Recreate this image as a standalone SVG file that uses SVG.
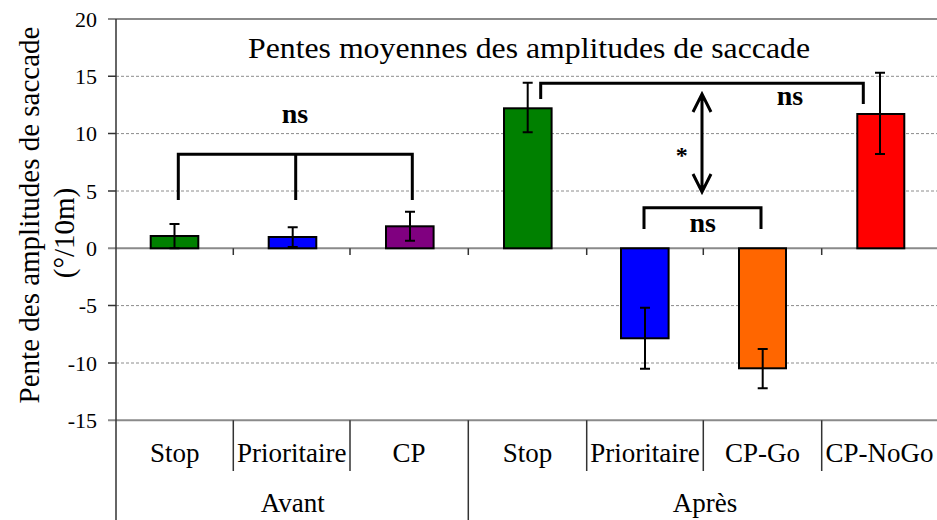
<svg xmlns="http://www.w3.org/2000/svg" width="937" height="520" viewBox="0 0 937 520">
<style>
text{font-family:'Liberation Serif','Times New Roman',serif;fill:#000}
.tick{font-size:22px;text-anchor:end}
.cat{font-size:27px;text-anchor:middle}
.ns{font-size:28px;font-weight:bold;text-anchor:middle}
.grid{stroke:#8c8c8c;stroke-width:1;stroke-dasharray:3 2;fill:none}
.ax{stroke:#8a8a8a;stroke-width:2;fill:none}
.dk{stroke:#333;stroke-width:1.5;fill:none}
.bar{stroke:#000;stroke-width:2}
.err{stroke:#000;stroke-width:2;fill:none}
.br{stroke:#000;stroke-width:3;fill:none}
</style>
<rect width="937" height="520" fill="#fff"/>
<g id="grid">
<path class="grid" d="M116,76.3H937M116,133.6H937M116,191H937M116,305.6H937M116,363H937"/>
<path class="ax" d="M108,19H937M108,420.3H937M108,248.3H937"/>
<path class="dk" d="M108,76.3H116M108,133.6H116M108,191H116M108,305.6H116M108,363H116"/>
<path class="dk" d="M116,19V520"/>
<path class="dk" d="M233.3,248.3V255M350,248.3V255M468.3,248.3V255M586.7,248.3V255M703.3,248.3V255M821.7,248.3V255"/>
<path class="dk" d="M233.3,420.3V471M350,420.3V471M586.7,420.3V471M703.3,420.3V471M821.7,420.3V471M468.3,420.3V520"/>
</g>
<g id="yticks">
<text class="tick" x="97" y="26.5">20</text>
<text class="tick" x="97" y="83.8">15</text>
<text class="tick" x="97" y="141.1">10</text>
<text class="tick" x="97" y="198.5">5</text>
<text class="tick" x="97" y="255.8">0</text>
<text class="tick" x="97" y="313.1">-5</text>
<text class="tick" x="97" y="370.5">-10</text>
<text class="tick" x="97" y="427.8">-15</text>
</g>
<g id="ylabel">
<text font-size="29" text-anchor="middle" transform="translate(39,215) rotate(-90)">Pente des amplitudes de saccade</text>
<text font-size="29" text-anchor="middle" transform="translate(74,233) rotate(-90)">(°/10m)</text>
</g>
<g id="title">
<text font-size="29" text-anchor="middle" x="529" y="58" textLength="562" lengthAdjust="spacingAndGlyphs">Pentes moyennes des amplitudes de saccade</text>
</g>
<g id="bar-avant-stop">
<rect class="bar" x="150.7" y="236" width="47.6" height="12.3" fill="#008000"/>
<path class="err" d="M174.5,224V248.3M169.5,224H179.5M169.5,248.3H179.5"/>
</g>
<g id="bar-avant-prioritaire">
<rect class="bar" x="268.7" y="237" width="47.6" height="11.3" fill="#0000ff"/>
<path class="err" d="M292.7,227.3V247M287.7,227.3H297.7M287.7,247H297.7"/>
</g>
<g id="bar-avant-cp">
<rect class="bar" x="386" y="226.3" width="47.6" height="22" fill="#800080"/>
<path class="err" d="M410,211.7V240.7M405,211.7H415M405,240.7H415"/>
</g>
<g id="bar-apres-stop">
<rect class="bar" x="504" y="108.3" width="47.6" height="140" fill="#008000"/>
<path class="err" d="M527.7,82.7V132.3M522.7,82.7H532.7M522.7,132.3H532.7"/>
</g>
<g id="bar-apres-prioritaire">
<rect class="bar" x="621" y="248.3" width="47.6" height="90" fill="#0000ff"/>
<path class="err" d="M645,307.7V368.7M640,307.7H650M640,368.7H650"/>
</g>
<g id="bar-apres-cpgo">
<rect class="bar" x="739" y="248.3" width="47" height="120" fill="#ff6600"/>
<path class="err" d="M762.7,349V388.3M757.7,349H767.7M757.7,388.3H767.7"/>
</g>
<g id="bar-apres-cpnogo">
<rect class="bar" x="857.3" y="114" width="47" height="134.3" fill="#ff0000"/>
<path class="err" d="M880,72.7V154M875,72.7H885M875,154H885"/>
</g>
<g id="connectors">
<path class="br" d="M178.3,200V154.3H412.3V200M295.7,154.3V200"/>
<path class="br" d="M540.7,99V83.3H863.3V104"/>
<path class="br" d="M644,229V207.7H761V229"/>
<path class="br" d="M702,95V191M693,112L702,94L711,112M693,174L702,192L711,174"/>
</g>
<g id="labels">
<text class="ns" x="295" y="123">ns</text>
<text class="ns" x="790" y="105">ns</text>
<text class="ns" x="702.7" y="232">ns</text>
<text x="681.7" y="163" font-size="24" font-weight="bold" text-anchor="middle">*</text>
</g>
<g id="categories">
<text class="cat" x="174.7" y="462">Stop</text>
<text class="cat" x="291.7" y="462">Prioritaire</text>
<text class="cat" x="409" y="462">CP</text>
<text class="cat" x="527.5" y="462">Stop</text>
<text class="cat" x="645" y="462">Prioritaire</text>
<text class="cat" x="762.5" y="462">CP-Go</text>
<text class="cat" x="879.5" y="462">CP-NoGo</text>
<text class="cat" x="292.7" y="512">Avant</text>
<text class="cat" x="705" y="512">Après</text>
</g>
</svg>
